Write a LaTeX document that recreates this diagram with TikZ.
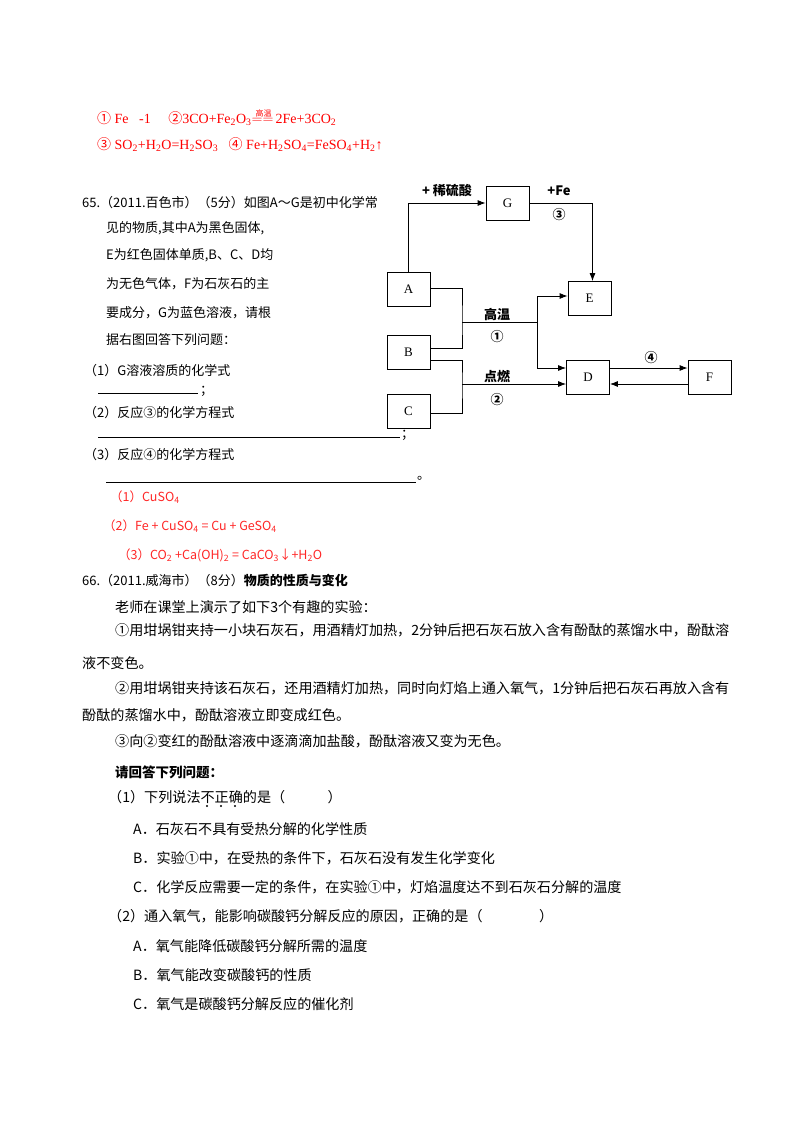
\documentclass[tikz,border=0pt]{standalone}
\usepackage{fontspec}
\setmainfont{Liberation Serif}
\newfontfamily\cjk{Noto Sans CJK SC}
\usetikzlibrary{arrows.meta}
\newcommand{\gwen}{\ensuremath{\mathrel{\mathop{\hbox to 24pt{\leaders\hbox{$=$}\hfill}}\limits^{\hbox{\fontsize{8}{8}\selectfont\cjk 高温}}}}}
\begin{document}
\begin{tikzpicture}[x=1pt,y=-1pt,
  t/.style={anchor=west,inner sep=0pt,font=\fontsize{13}{15}\selectfont\cjk},
  tt/.style={anchor=west,inner sep=0pt,font=\fontsize{14.1}{16}\selectfont\cjk},
  r/.style={anchor=west,inner sep=0pt,text=red,font=\fontsize{14}{15}\selectfont},
  rc/.style={anchor=west,inner sep=0pt,text=red!85!white,font=\fontsize{12.5}{15}\selectfont\cjk},
  box/.style={draw,line width=0.8pt,minimum width=43pt,minimum height=34pt,inner sep=0pt,font=\fontsize{13}{15}\selectfont},
  lab/.style={inner sep=0pt,font=\fontsize{13}{15}\selectfont\cjk\bfseries},
  ln/.style={line width=0.8pt},
  ar/.style={line width=0.8pt,-{Latex[length=8pt,width=6pt]}}]
\useasboundingbox (0,0) rectangle (800,1132);
% red answers top
\node[r] (r1) at (97,117) {{\cjk ①} Fe \ \ -1 \quad {\cjk ②}3CO+Fe\textsubscript{2}O\textsubscript{3}\gwen 2Fe+3CO\textsubscript{2}};
\node[r] (r2) at (97,145) {{\cjk ③} SO\textsubscript{2}+H\textsubscript{2}O=H\textsubscript{2}SO\textsubscript{3} \ \ {\cjk ④} Fe+H\textsubscript{2}SO\textsubscript{4}=FeSO\textsubscript{4}+H\textsubscript{2}↑};
% question 65
\node[t] (q1) at (82,203) {65.（2011.百色市）（5分）如图A～G是初中化学常};
\node[t] (q2) at (106,228) {见的物质,其中A为黑色固体,};
\node[t] (q3) at (106,255) {E为红色固体单质,B、C、D均};
\node[t] (q4) at (106,284) {为无色气体，F为石灰石的主};
\node[t] (q5) at (106,313) {要成分，G为蓝色溶液，请根};
\node[t] (q6) at (106,340) {据右图回答下列问题：};
\node[t] (q7) at (84,371) {（1）G溶液溶质的化学式};
\draw[line width=0.6pt] (98,393) -- (198,393);
\node[t] (s1) at (200,391) {；};
\node[t] (q8) at (84,413) {（2）反应③的化学方程式};
\draw[line width=0.6pt] (98,437) -- (400,437);
\node[t] (s2) at (401,435) {；};
\node[t] (q9) at (84,455) {（3）反应④的化学方程式};
\draw[line width=0.6pt] (106,482) -- (416,482);
\node[t] (s3) at (417,478) {。};
\node[rc] (a1) at (110,497) {（1）CuSO\textsubscript{4}};
\node[rc] (a2) at (103,526) {（2）Fe + CuSO\textsubscript{4} = Cu + GeSO\textsubscript{4}};
\node[rc] (a3) at (118,555) {（3）CO\textsubscript{2} +Ca(OH)\textsubscript{2} = CaCO\textsubscript{3}↓+H\textsubscript{2}O};
% diagram
\node[box] (G) at (507.5,203) {G};
\node[box] (A) at (408.5,289) {A};
\node[box] (B) at (408.5,352) {B};
\node[box] (C) at (408.5,411.5) {C};
\node[box] (E) at (589.5,298.5) {E};
\node[box] (D) at (588,377) {D};
\node[box] (F) at (709.5,377) {F};
\draw[ar] (A.north) |- (G.west);
\node[lab] (l1) at (447,191) {+ 稀硫酸};
\draw[ar] (G.east) -| ([xshift=3pt]E.north);
\node[lab] (l2) at (559,191) {+Fe};
\node[lab] (l3) at (559,215) {③};
\coordinate (j1) at (462,322);
\coordinate (k1) at (537,322);
\coordinate (j2) at (462,384);
\draw[ln] ([yshift=1pt]A.east) -| (j1) |- ([yshift=4pt]B.east);
\draw[ln] (j1) -- (k1);
\draw[ar] (k1) |- ([yshift=2.5pt]E.west);
\draw[ar] (k1) |- ([yshift=9pt]D.west);
\node[lab] (l4) at (497,314) {高温};
\node[lab] (l5) at (497,337) {①};
\draw[ln] ([yshift=-8pt]B.east) -| (j2) |- ([yshift=-1.5pt]C.east);
\draw[ar] (j2) -- ([yshift=-7pt]D.west);
\node[lab] (l6) at (497,376) {点燃};
\node[lab] (l7) at (497,400) {②};
\draw[ar] ([yshift=9pt]D.east) -- ([yshift=9pt]F.west);
\draw[ar] ([yshift=-7pt]F.west) -- ([yshift=-7pt]D.east);
\node[lab] (l8) at (651,358) {④};
% question 66
\node[t] (p1) at (82,580) {66.（2011.威海市）（8分）\textbf{物质的性质与变化}};
\node[tt] (p2) at (115,607) {老师在课堂上演示了如下3个有趣的实验：};
\node[tt] (p3) at (115,630) {①用坩埚钳夹持一小块石灰石，用酒精灯加热，2分钟后把石灰石放入含有酚酞的蒸馏水中，酚酞溶};
\node[tt] (p4) at (82,663) {液不变色。};
\node[tt] (p5) at (115,688) {②用坩埚钳夹持该石灰石，还用酒精灯加热，同时向灯焰上通入氧气，1分钟后把石灰石再放入含有};
\node[tt] (p6) at (82,715) {酚酞的蒸馏水中，酚酞溶液立即变成红色。};
\node[tt] (p7) at (115,741) {③向②变红的酚酞溶液中逐滴滴加盐酸，酚酞溶液又变为无色。};
\node[tt,font=\fontsize{13.5}{15}\selectfont\cjk\bfseries] (p8) at (115,772) {请回答下列问题：};
\node[tt] (p9) at (108,797) {（1）下列说法不正确的是（　　　）};
\foreach \x in {207,221,235} \fill (\x,806) circle (1.2pt);
\node[tt] (pa) at (133,829) {A．石灰石不具有受热分解的化学性质};
\node[tt] (pb) at (133,858) {B．实验①中，在受热的条件下，石灰石没有发生化学变化};
\node[tt] (pc) at (133,887) {C．化学反应需要一定的条件，在实验①中，灯焰温度达不到石灰石分解的温度};
\node[tt] (p10) at (108,916) {（2）通入氧气，能影响碳酸钙分解反应的原因，正确的是（　　　　）};
\node[tt] (pd) at (133,946) {A．氧气能降低碳酸钙分解所需的温度};
\node[tt] (pe) at (133,975) {B．氧气能改变碳酸钙的性质};
\node[tt] (pf) at (133,1004) {C．氧气是碳酸钙分解反应的催化剂};
\end{tikzpicture}
\end{document}
